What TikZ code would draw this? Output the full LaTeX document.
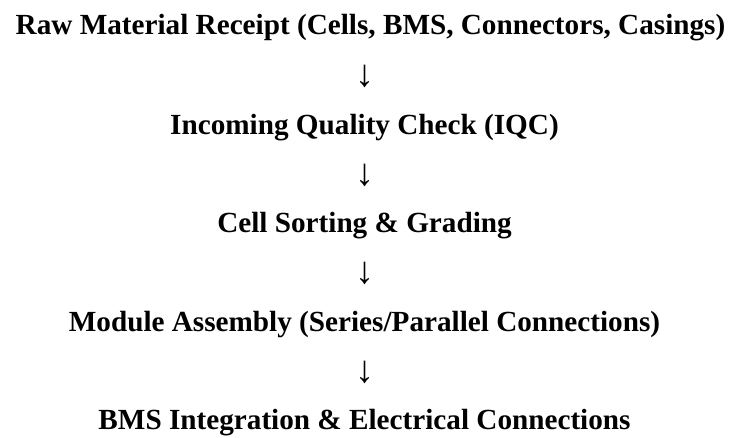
\documentclass[tikz,border=0pt]{standalone}
\usepackage{fontspec}
\setmainfont{Liberation Serif}
\begin{document}
\begin{tikzpicture}[x=1pt,y=1pt,
  stage/.style={anchor=base, inner sep=0pt, font=\fontsize{29.2}{31}\selectfont\bfseries},
  flowarrow/.style={anchor=center, inner sep=0pt, font=\fontsize{38}{40}\selectfont}]
  \useasboundingbox (0,0) rectangle (729,-437);
  \node[stage] (raw)    at (370.5,-34)  {Raw Material Receipt (Cells, BMS, Connectors, Casings)};
  \node[flowarrow] (a1) at (364.5,-76)  {↓};
  \node[stage] (iqc)    at (364.5,-134) {Incoming Quality Check (IQC)};
  \node[flowarrow] (a2) at (364.5,-175) {↓};
  \node[stage] (sort)   at (364.5,-232) {Cell Sorting \& Grading};
  \node[flowarrow] (a3) at (364.5,-273) {↓};
  \node[stage] (module) at (364.5,-331) {Module Assembly (Series/Parallel Connections)};
  \node[flowarrow] (a4) at (364.5,-372) {↓};
  \node[stage] (bms)    at (364.5,-429) {BMS Integration \& Electrical Connections};
\end{tikzpicture}
\end{document}
